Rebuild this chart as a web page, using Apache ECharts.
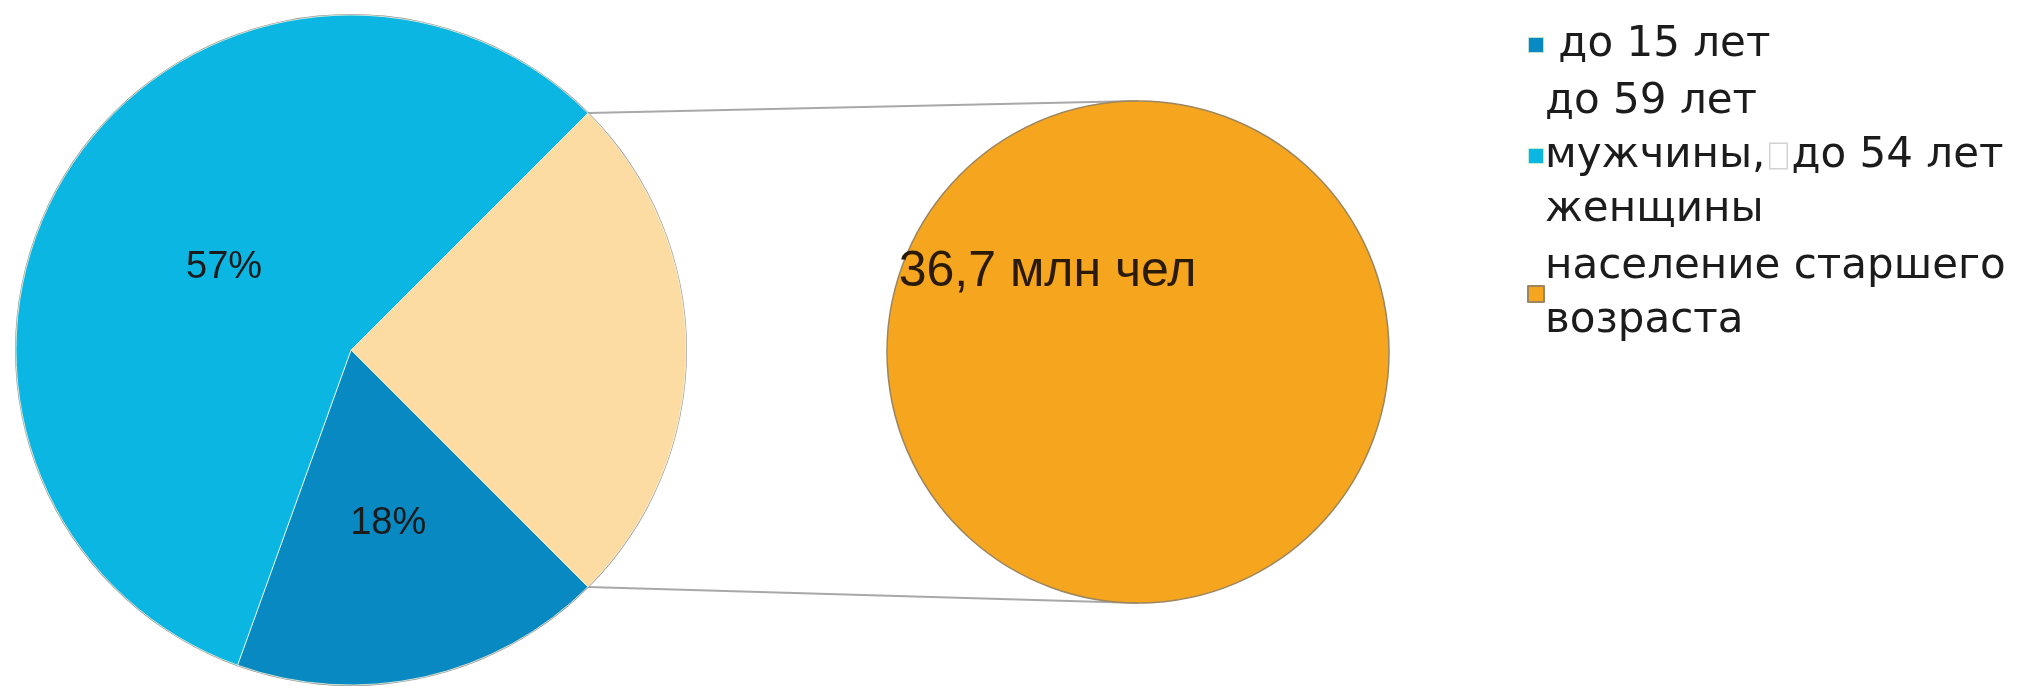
<!DOCTYPE html>
<html><head><meta charset="utf-8">
<script src="https://cdn.jsdelivr.net/npm/echarts@6/dist/echarts.min.js"></script>
<style>html,body{margin:0;padding:0;background:#fff}#c{width:2024px;height:686px}</style>
</head><body><div id="c"></div>
<script>
// ---- data ----
const categories = ['старше трудоспособного', 'до 15 лет', 'трудоспособного возраста'];
const sharePercent = [25, 18, 57];
const detailName = 'население старшего возраста';
const detailValue = [36.7];
const legendLabels = [' до 15 лет', 'до 59 лет\nмужчины,{g|\u00a0}{box|\u00a0}{g|\u00a0}до 54 лет\nженщины', 'население старшего\nвозраста'];

// ---- style ----
const mainColors = ['#FCDCA2', '#0889C2', '#0CB6E3'];
const detailColor = '#F5A51E';
const font = 'Liberation Sans, Arial, sans-serif';
const legendFont = 'DejaVu Sans, sans-serif';
const mainCenter = [351, 350], mainR = 335, mainStart = 45;
const detCenter = [1138, 352], detR = 251;
const labelShift = [[0, 0], [0, 7], [17, 9]];

const total = sharePercent.reduce((a, b) => a + b, 0);
const a0 = mainStart * Math.PI / 180;
const a1 = (mainStart - sharePercent[0] / total * 360) * Math.PI / 180;
const p0 = [mainCenter[0] + mainR * Math.cos(a0), mainCenter[1] - mainR * Math.sin(a0)];
const p1 = [mainCenter[0] + mainR * Math.cos(a1), mainCenter[1] - mainR * Math.sin(a1)];

const chart = echarts.init(document.getElementById('c'));
const legendNames = [categories[1], categories[2], detailName];
chart.setOption({
  animation: false,
  backgroundColor: '#fff',
  legend: {
    orient: 'vertical', left: 1527, top: 18, padding: 0,
    data: legendNames.map(n => ({ name: n, icon: 'rect' })),
    itemWidth: 16, itemHeight: 16, itemGap: 3,
    formatter: function (name) { return legendLabels[legendNames.indexOf(name)]; },
    textStyle: {
      fontFamily: legendFont, fontSize: 42, lineHeight: 54, color: '#1c1c1c', padding: [0, 0, 0, -4],
      rich: {
        box: { width: 16, height: 24, borderColor: '#d2d2d2', borderWidth: 1.5, fontSize: 20, lineHeight: 24, align: 'center', backgroundColor: '#fff' },
        g: { width: 5, fontSize: 10, lineHeight: 54 }
      }
    },
    selectedMode: false
  },
  graphic: [
    { type: 'line', shape: { x1: p0[0], y1: p0[1], x2: detCenter[0], y2: detCenter[1] - detR }, style: { stroke: '#a8a8a8', lineWidth: 2 }, z: 0 },
    { type: 'line', shape: { x1: p1[0], y1: p1[1], x2: detCenter[0], y2: detCenter[1] + detR }, style: { stroke: '#a8a8a8', lineWidth: 2 }, z: 0 }
  ],
  series: [
    {
      type: 'pie', silent: true, center: mainCenter, radius: mainR + 1, z: 1,
      label: { show: false }, labelLine: { show: false },
      data: [{ value: 1, name: '_outline', itemStyle: { color: '#8f8f8f' } }]
    },
    {
      type: 'pie', center: mainCenter, radius: mainR, startAngle: mainStart, clockwise: true, z: 2,
      silent: true,
      itemStyle: { borderColor: 'rgba(255,255,230,0.75)', borderWidth: 1 },
      label: { show: true, position: 'inside', formatter: '{c}%', fontFamily: font, fontSize: 38, color: '#1b1b1b' },
      labelLine: { show: false },
      labelLayout: p => ({ dx: labelShift[p.dataIndex][0], dy: labelShift[p.dataIndex][1] }),
      data: categories.map((n, i) => ({
        name: n, value: sharePercent[i], itemStyle: { color: mainColors[i] },
        label: { show: i !== 0 }
      }))
    },
    {
      type: 'pie', center: detCenter, radius: detR, startAngle: 318, z: 2, silent: true,
      itemStyle: { borderColor: '#9b8660', borderWidth: 1.5 },
      label: {
        show: true, position: 'inside', fontFamily: font, fontSize: 50, color: '#2a1a08',
        formatter: p => String(p.value).replace('.', ',') + ' млн чел'
      },
      labelLayout: { dx: 5, dy: 6 },
      labelLine: { show: false },
      data: [{ name: detailName, value: detailValue[0], itemStyle: { color: detailColor } }]
    }
  ]
});
</script></body></html>
